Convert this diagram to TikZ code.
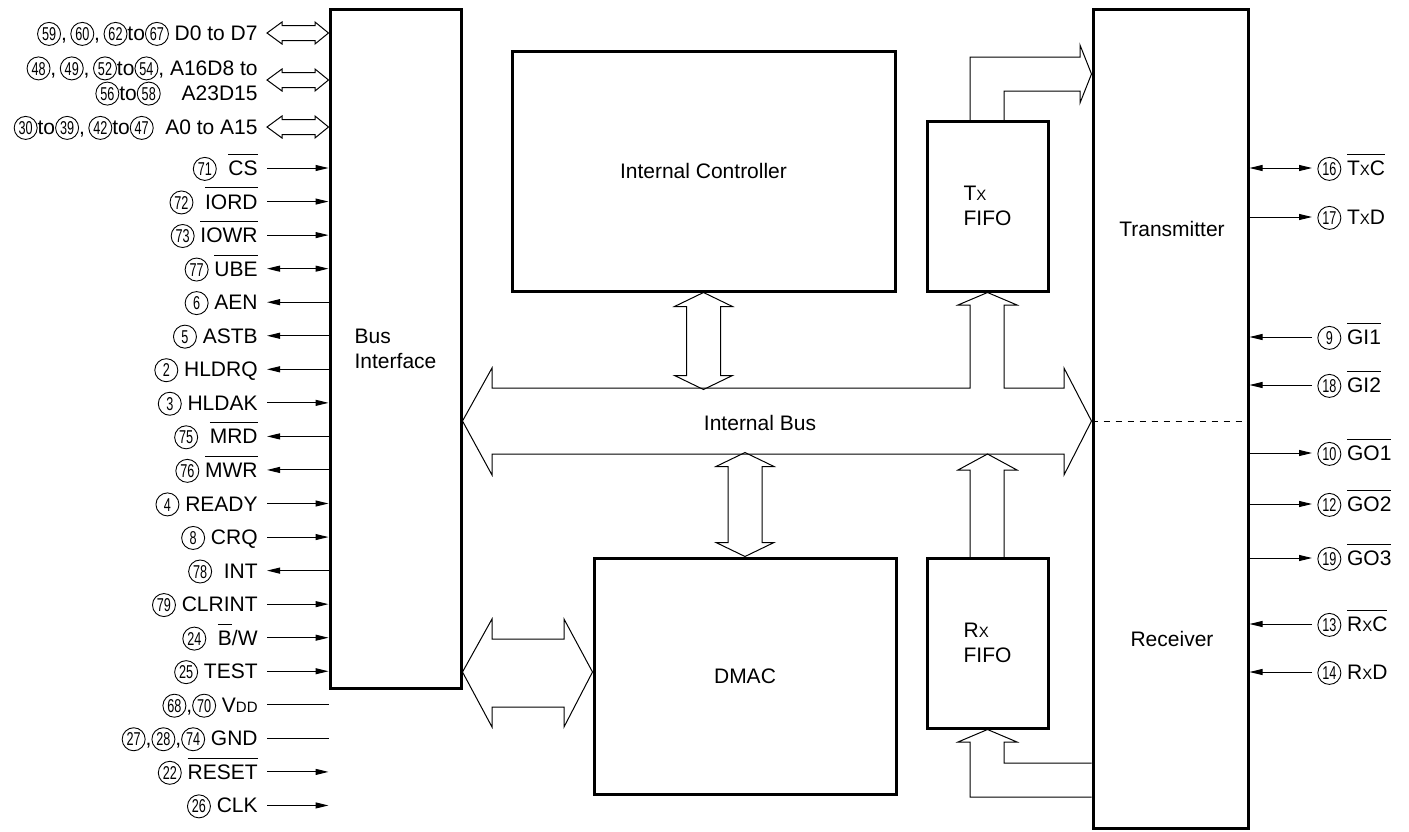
\documentclass[tikz,border=0pt]{standalone}
\usepackage{fontspec}
\setmainfont{Liberation Sans}
\usepackage{graphicx}
\usetikzlibrary{arrows.meta}
\newcommand\mainsize{\fontsize{10.5}{12.6}\selectfont}
\tikzset{
  blockbox/.style = {rectangle, draw=black, line width=1.5pt, inner sep=0pt,
    align=left, font=\mainsize},% thick block
  bustext/.style = {font=\mainsize, inner sep=0pt},
  hollow/.style = {draw=black, line width=0.5pt, line join=miter},% open bus arrow
  sigline/.style = {line width=0.5pt},
  sigin/.style = {-{Triangle[length=6.5pt,width=3pt]}},
  sigout/.style = {{Triangle[length=6.5pt,width=3pt]}-},
  sigbi/.style = {{Triangle[length=6.5pt,width=3pt]}-{Triangle[length=6.5pt,width=3pt]}},
  signo/.style = {-},
  pinlabel/.style = {font=\mainsize, text height=7.5pt, text depth=0pt},
  circnum/.style = {circle, draw=black, line width=0.45pt, inner sep=0pt,
    minimum size=11.5pt, text height=6.6pt, text depth=0pt, align=center,
    font=\fontsize{9.3}{9.3}\selectfont}% pin number
}
\newcommand\cn[1]{\tikz[baseline=(cn.base)]\node[circnum] (cn) {\scalebox{0.68}[1]{#1}};}
\newcommand\ol[1]{$\overline{\mbox{\rule{0pt}{9.2pt}#1}}$}
\newcommand\sx[1]{{\fontsize{7.5}{8}\selectfont #1}}
% vertical double bus arrow: top tip, length
\newcommand\vbiarrow[2]{%
  \draw[hollow] (#1) -- ++(29,14) -- ++(-12,0) -- ++(0,#2-28) -- ++(12,0)
    -- ++(-29,14) -- ++(-29,-14) -- ++(12,0) -- ++(0,-#2+28) -- ++(-12,0) -- cycle;}
% small double bus arrow into bus interface
\newcommand\pinbus[1]{%
  \draw[hollow] (267,#1) -- (282,#1-11) -- (282,#1-7.5) -- (315,#1-7.5) -- (315,#1-11)
    -- (bus.west |- 0,#1) -- (315,#1+11) -- (315,#1+7.5) -- (282,#1+7.5) -- (282,#1+11) -- cycle;}

\begin{document}
\begin{tikzpicture}[x=0.5pt, y=-0.5pt]
  \useasboundingbox (0,0) rectangle (1409,831);
  % blocks
  \node[blockbox, minimum width=65.5pt, minimum height=339.5pt] (bus) at (395.5,348.5) {Bus\\Interface};
  \node[blockbox, minimum width=191.5pt, minimum height=120pt] (ctrl) at (703.5,171) {Internal Controller};
  \node[blockbox, minimum width=60.5pt, minimum height=85pt] (txf) at (987.5,206) {T\sx{X}\\FIFO};
  \node[blockbox, minimum width=151pt, minimum height=118pt] (dmac) at (745,676) {DMAC};
  \node[blockbox, minimum width=60.5pt, minimum height=85pt] (rxf) at (987.5,643) {R\sx{X}\\FIFO};
  \node[blockbox, minimum width=77.5pt, minimum height=409.5pt] (trx) at (1170.5,418.5) {};
  \node[bustext] (txl) at (1172,229) {Transmitter};
  \node[bustext] (rxl) at (1172,639) {Receiver};
  \draw[dashed, line width=0.5pt] (trx.west |- 0,421) -- (trx.east |- 0,421);

  % internal bus with Tx FIFO input
  \draw[hollow] (bus.east |- 0,421) -- (492,368) -- (492,388) -- (970,388) -- (970,305) -- (958,305)
    -- (txf.south) -- (1017,305) -- (1004,305) -- (1004,388) -- (1064,388) -- (1064,368)
    -- (trx.west |- 0,421) -- (1064,475) -- (1064,454) -- (492,454) -- (492,475) -- cycle;
  \node[bustext] (ibus) at (760,423) {Internal Bus};
  \vbiarrow{ctrl.south}{97}
  \vbiarrow{[yshift=52pt]dmac.north}{104}
  % Rx FIFO to bus
  \draw[hollow] (970,558) -- (970,470) -- (958,470) -- (987.5,454) -- (1017,470) -- (1004,470) -- (1004,558);
  % Tx FIFO to transmitter
  \draw[hollow] (970,121) -- (970,57) -- (1080,57) -- (1080,45) -- (trx.west |- 0,74)
    -- (1080,103) -- (1080,91) -- (1004,91) -- (1004,121);
  % receiver to Rx FIFO
  \draw[hollow] (trx.west |- 0,763) -- (1004,763) -- (1004,742) -- (1017,742) -- (rxf.south)
    -- (958,742) -- (970,742) -- (970,797) -- (trx.west |- 0,797);
  % bus interface to DMAC
  \draw[hollow] (bus.east |- 0,672) -- (492,619) -- (492,639) -- (564,639) -- (564,619)
    -- (dmac.west |- 0,672) -- (564,727) -- (564,707) -- (492,707) -- (492,727) -- cycle;

  % data and address buses
  \pinbus{33}
  \pinbus{80}
  \pinbus{127}
  \node[pinlabel, anchor=east, inner sep=4.5pt] (ld) at (267,33) {\cn{59},\,\cn{60},\,\cn{62}to\cn{67} D0 to D7};
  \node[font=\mainsize, align=right, anchor=east, inner sep=4.5pt] (lad) at (267,81) {\cn{48},\,\cn{49},\,\cn{52}to\cn{54}, A16D8 to\\\cn{56}to\cn{58}\quad A23D15};
  \node[pinlabel, anchor=east, inner sep=4.5pt] (la) at (267,127) {\cn{30}to\cn{39},\,\cn{42}to\cn{47}\ \ A0 to A15};

  % left pins
  \foreach \i/\lbl/\dir in {0/{\cn{71}\ \ \ol{CS}}/sigin, 1/{\cn{72}\ \ \ol{IORD}}/sigin,
      2/{\cn{73}\ \ol{IOWR}}/sigin, 3/{\cn{77}\ \ol{UBE}}/sigbi, 4/{\cn{6} AEN}/sigout,
      5/{\cn{5} ASTB}/sigout, 6/{\cn{2} HLDRQ}/sigout, 7/{\cn{3} HLDAK}/sigin,
      8/{\cn{75}\ \ \ol{MRD}}/sigout, 9/{\cn{76}\ \ol{MWR}}/sigout, 10/{\cn{4} READY}/sigin,
      11/{\cn{8} CRQ}/sigin, 12/{\cn{78}\ \ INT}/sigout, 13/{\cn{79} CLRINT}/sigin,
      14/{\cn{24}\ \ \ol{B}/W}/sigin, 15/{\cn{25} TEST}/sigin, 16/{\cn{68},\cn{70}\ V\sx{DD}}/signo,
      17/{\cn{27},\cn{28},\cn{74}\ GND}/signo, 18/{\cn{22} \ol{RESET}}/sigin, 19/{\cn{26} CLK}/sigin}{
    \node[pinlabel, anchor=east, inner sep=4.5pt] (l\i) at (267,168+33.55*\i) {\lbl};
    \draw[sigline,\dir] (l\i.east) -- (bus.west |- l\i.east);
  }

  % right pins
  \foreach \y/\lbl/\dir in {168/{\cn{16} \ol{T\sx{X}C}}/sigbi, 217/{\cn{17} T\sx{X}D}/sigout,
      337/{\cn{9} \ol{GI1}}/sigin, 385/{\cn{18} \ol{GI2}}/sigin, 453/{\cn{10} \ol{GO1}}/sigout,
      504/{\cn{12} \ol{GO2}}/sigout, 558/{\cn{19} \ol{GO3}}/sigout, 624/{\cn{13} \ol{R\sx{X}C}}/sigin,
      672/{\cn{14} R\sx{X}D}/sigin}{
    \node[pinlabel, anchor=west, inner sep=2.5pt] (r\y) at (1312,\y) {\lbl};
    \draw[sigline,\dir] (r\y.west) -- (trx.east |- r\y.west);
  }
\end{tikzpicture}
\end{document}
